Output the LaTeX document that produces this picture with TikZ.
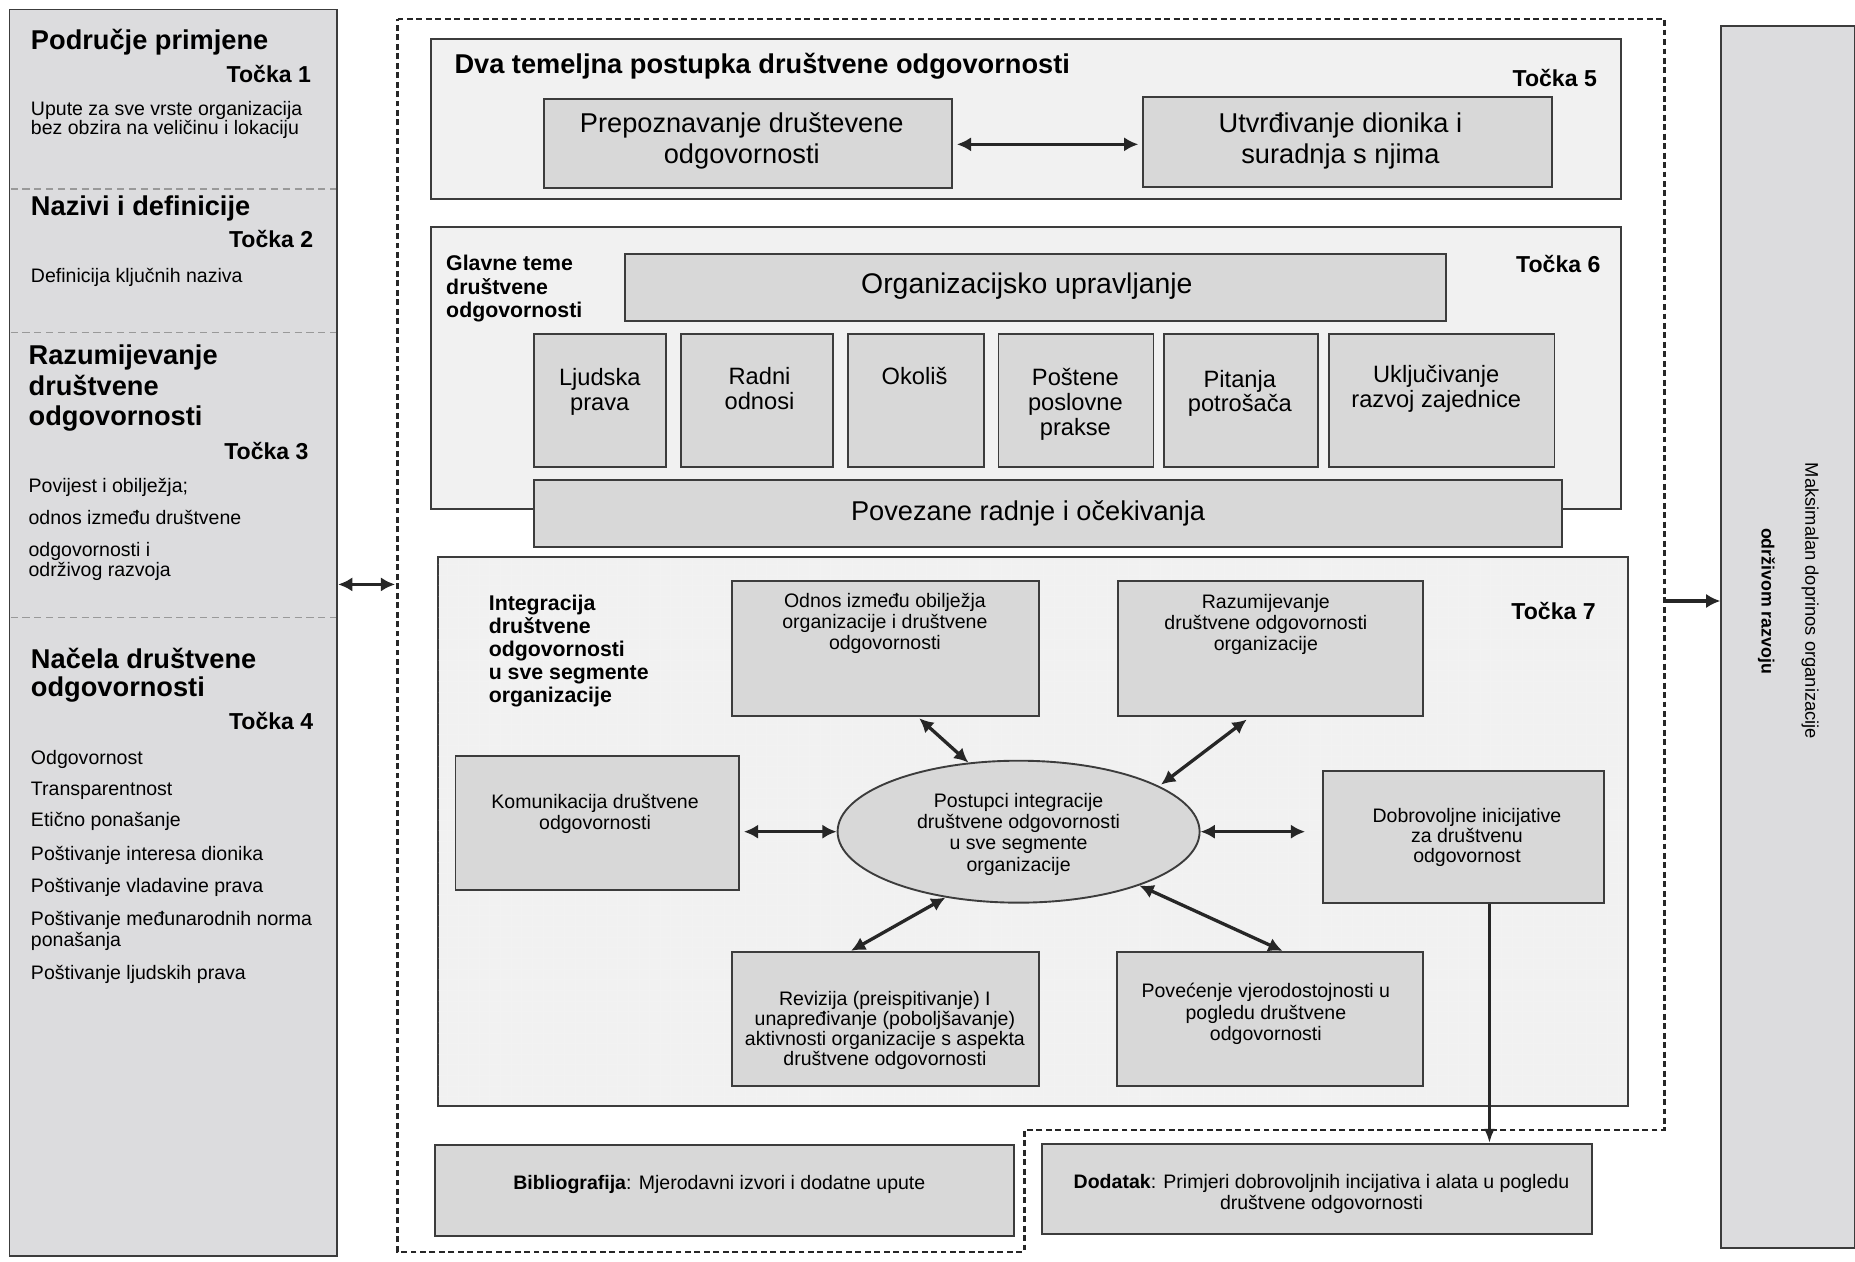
\documentclass[tikz,border=0pt]{standalone}
\usepackage{fontspec}
\setmainfont{Liberation Sans}
\usetikzlibrary{arrows.meta,shapes.geometric,calc}
\definecolor{boxgray}{HTML}{D8D8D8}
\definecolor{colgray}{HTML}{DCDCDE}
\definecolor{contgray}{HTML}{F1F1F1}
\definecolor{edgec}{HTML}{3C3C3C}
\newcommand\myfs[2]{\fontsize{#1}{#2}\selectfont}
\begin{document}
\begin{tikzpicture}[x=1pt,y=-1pt,
 gbox/.style={draw=edgec, line width=1.6pt, fill=boxgray, inner sep=0pt, rectangle},
 cbox/.style={draw=edgec, line width=1.6pt, fill=contgray, inner sep=0pt, rectangle},
 colbox/.style={draw=edgec, line width=1.6pt, fill=colgray, inner sep=0pt, rectangle},
 txt/.style={inner sep=0pt, align=center},
 tl/.style={inner sep=0pt, anchor=base west},
 tr/.style={inner sep=0pt, anchor=base east},
 body/.style={font=\myfs{16.5}{18}},
 ttl/.style={font=\bfseries\myfs{23}{26}},
 tocka/.style={font=\bfseries\myfs{19.5}{22}},
 dbl/.style={line width=2.8pt, draw=black!85, {Latex[length=12pt,width=12pt]}-{Latex[length=12pt,width=12pt]}},
 sgl/.style={line width=2.8pt, draw=black!85, -{Latex[length=12pt,width=12pt]}},
 thinarr/.style={line width=2.2pt, draw=black!85, -{Latex[length=12pt,width=9pt]}},
 sepline/.style={draw=gray!80, line width=1.4pt, dash pattern=on 6pt off 4pt},
 outerdash/.style={draw=black!85, line width=1.8pt, dash pattern=on 5pt off 3pt},
]
\useasboundingbox (0,0) rectangle (1568,1066);
\fill[white] (0,0) rectangle (1568,1066);

% ---------------- left column ----------------
\node[colbox, minimum width=277pt, minimum height=1054pt] (lcol) at (146.5,535) {};
\draw[sepline] (9,160) -- (284,160);
\draw[sepline] (9,281) -- (284,281);
\draw[sepline] (9,522) -- (284,522);

\node[tl, ttl] (t1) at (26,42) {Područje primjene};
\node[tr, tocka] (k1) at (263,70) {Točka 1};
\node[tl, body] (u1) at (26,98) {Upute za sve vrste organizacija};
\node[tl, body] (u2) at (26,114) {bez obzira na veličinu i lokaciju};

\node[tl, ttl] (t2) at (26,182) {Nazivi i definicije};
\node[tr, tocka] (k2) at (265,209) {Točka 2};
\node[tl, body] (d1) at (26,239) {Definicija ključnih naziva};

\node[tl, ttl] (t3a) at (24,308) {Razumijevanje};
\node[tl, ttl] (t3b) at (24,334) {društvene};
\node[tl, ttl] (t3c) at (24,360) {odgovornosti};
\node[tr, tocka] (k3) at (261,388) {Točka 3};
\node[tl, body] (r1) at (24,416) {Povijest i obilježja;};
\node[tl, body] (r2) at (24,443) {odnos između društvene};
\node[tl, body] (r3) at (24,470) {odgovornosti i};
\node[tl, body] (r4) at (24,487) {održivog razvoja};

\node[tl, ttl] (t4a) at (26,565) {Načela društvene};
\node[tl, ttl] (t4b) at (26,589) {odgovornosti};
\node[tr, tocka] (k4) at (265,617) {Točka 4};
\node[tl, body] (n1) at (26,646) {Odgovornost};
\node[tl, body] (n2) at (26,672) {Transparentnost};
\node[tl, body] (n3) at (26,699) {Etično ponašanje};
\node[tl, body] (n4) at (26,727) {Poštivanje interesa dionika};
\node[tl, body] (n5) at (26,754) {Poštivanje vladavine prava};
\node[tl, body] (n6) at (26,782) {Poštivanje međunarodnih norma};
\node[tl, body] (n6b) at (26,800) {ponašanja};
\node[tl, body] (n7) at (26,828) {Poštivanje ljudskih prava};

% ---------------- outer dashed frame ----------------
\draw[outerdash] (336,16) -- (1407,16) -- (1407,955) -- (866,955) -- (866,1058) -- (336,1058) -- cycle;
\coordinate (lb) at (334,494);
\draw[dbl] (lcol.east |- lb) -- (lb);

% ---------------- box 5 ----------------
\node[cbox, minimum width=1006pt, minimum height=135pt] (b5) at (867,100.5) {};
\node[tl, font=\bfseries\myfs{23}{26}] (t5) at (384,62) {Dva temeljna postupka društvene odgovornosti};
\node[tr, tocka] (k5) at (1350,73) {Točka 5};
\node[gbox, minimum width=345pt, minimum height=75pt] (p5a) at (632.5,121.5) {};
\node[txt, font=\myfs{23}{26}] at (627,119) {Prepoznavanje društevene\\odgovornosti};
\node[gbox, minimum width=346pt, minimum height=76pt] (p5b) at (1139,120) {};
\node[txt, font=\myfs{23}{26}] at (1133,119) {Utvrđivanje dionika i\\suradnja s njima};
\draw[dbl, shorten <=3pt, shorten >=3pt] (p5a.east |- 0,122) -- (p5b.west |- 0,122);

% ---------------- box 6 ----------------
\node[cbox, minimum width=1006pt, minimum height=238pt] (b6) at (867,311) {};
\node[txt, align=left, anchor=west, font=\bfseries\myfs{18}{20}] (g6) at (377,244) {Glavne teme\\društvene\\odgovornosti};
\node[tr, tocka] (k6) at (1353,230) {Točka 6};
\node[gbox, minimum width=694pt, minimum height=56pt] (org) at (875,243) {};
\node[txt, font=\myfs{24}{26}] at (868,242) {Organizacijsko upravljanje};

\node[gbox, minimum width=112pt, minimum height=113pt] (s1) at (507,338.5) {};
\node[gbox, minimum width=128pt, minimum height=113pt] (s2) at (640,338.5) {};
\node[gbox, minimum width=115pt, minimum height=113pt] (s3) at (774.5,338.5) {};
\node[gbox, minimum width=131pt, minimum height=113pt] (s4) at (909.5,338.5) {};
\node[gbox, minimum width=130pt, minimum height=113pt] (s5) at (1049,338.5) {};
\node[gbox, minimum width=191pt, minimum height=113pt] (s6) at (1218.5,338.5) {};
\node[txt, font=\myfs{20}{21}] at (507,331.5) {Ljudska\\prava};
\node[txt, font=\myfs{20}{21}] at (642,328.5) {Radni\\odnosi};
\node[txt, font=\myfs{20}{21}] at (773,318) {Okoliš};
\node[txt, font=\myfs{20}{21}] at (909,342) {Poštene\\poslovne\\prakse};
\node[txt, font=\myfs{20}{21}] at (1048,332.5) {Pitanja\\potrošača};
\node[txt, font=\myfs{20}{21}] at (1214,328.5) {Uključivanje\\razvoj zajednice};

\node[gbox, minimum width=869pt, minimum height=56pt] (pov) at (885.5,434) {};
\node[txt, font=\myfs{23}{26}] at (869,434) {Povezane radnje i očekivanja};

% ---------------- box 7 ----------------
\node[cbox, minimum width=1006pt, minimum height=464pt] (b7) at (873,703) {};
\begin{scope}
\clip (371,472) rectangle (1375,934);
\draw[black!5, line width=0.5pt, step=9pt] (370,471) grid (1376,935);
\end{scope}
\node[txt, align=left, anchor=west, font=\bfseries\myfs{18}{19.5}] (g7) at (413,550) {Integracija\\društvene\\odgovornosti\\u sve segmente\\organizacije};
\node[tr, tocka] (k7) at (1349,524) {Točka 7};

\node[gbox, minimum width=259pt, minimum height=114pt] (odnos) at (748.5,548) {};
\node[txt, body] at (748,527) {Odnos između obilježja\\organizacije i društvene\\odgovornosti};
\node[gbox, minimum width=258pt, minimum height=114pt] (razum) at (1074,548) {};
\node[txt, body] at (1070,528) {Razumijevanje\\društvene odgovornosti\\organizacije};
\node[gbox, minimum width=240pt, minimum height=113pt] (komun) at (505,695.5) {};
\node[txt, body] at (503,688) {Komunikacija društvene\\odgovornosti};
\node[gbox, ellipse, minimum width=306pt, minimum height=120pt] (ell) at (861,703) {};
\node[txt, body] at (861,705) {Postupci integracije\\društvene odgovornosti\\u sve segmente\\organizacije};
\node[gbox, minimum width=238pt, minimum height=111pt] (dobro) at (1237,707.5) {};
\node[txt, font=\myfs{16.5}{17}] at (1240,708) {Dobrovoljne inicijative\\za društvenu\\odgovornost};
\node[gbox, minimum width=259pt, minimum height=113pt] (rev) at (748.5,861.5) {};
\node[txt, font=\myfs{16.5}{17}] at (748,871) {Revizija (preispitivanje) I\\unapređivanje (poboljšavanje)\\aktivnosti organizacije s aspekta\\društvene odgovornosti};
\node[gbox, minimum width=259pt, minimum height=113pt] (pove) at (1073.5,861.5) {};
\node[txt, body] at (1070,857) {Povećenje vjerodostojnosti u\\pogledu društvene\\odgovornosti};

\draw[dbl, shorten <=2pt] ($(odnos.south)+(27,0)$) -- (ell.126);
\draw[dbl, shorten <=4pt, shorten >=2pt] ($(razum.south)+(-17,0)$) -- (ell.18);
\draw[dbl, shorten <=3pt] (komun.east |- ell.west) -- (ell.west);
\draw[dbl, shorten >=14pt] (ell.east) -- (ell.east -| dobro.west);
\draw[dbl, shorten >=1pt] (ell.222) -- ($(rev.north)+(-30,0)$);
\draw[dbl, shorten >=1pt] (ell.336) -- ($(pove.north)+(11.5,0)$);

% ---------------- bottom boxes ----------------
\node[gbox, minimum width=489pt, minimum height=77pt] (bib) at (612.5,1006.5) {};
\node[txt, body] at (608,1001) {\textbf{Bibliografija}: Mjerodavni izvori i dodatne upute};
\node[gbox, minimum width=465pt, minimum height=76pt] (dod) at (1113.5,1005) {};
\node[txt, body] at (1117,1009) {\textbf{Dodatak}: Primjeri dobrovoljnih incijativa i alata u pogledu\\društvene odgovornosti};
\coordinate (dz) at ($(dobro.south)+(22,0)$);
\draw[thinarr] (dz) -- (dz |- dod.north);

% ---------------- right column ----------------
\node[colbox, minimum width=113pt, minimum height=1033pt] (rcol) at (1511.5,538.5) {};
\node[txt, rotate=-90, font=\myfs{15.5}{18}] (rt1) at (1530,508) {Maksimalan doprinos organizacije};
\node[txt, rotate=-90, font=\bfseries\myfs{15}{18}] (rt2) at (1493,508) {održivom razvoju};
\coordinate (rb) at (1408,508);
\draw[sgl] (rb) -- (rb -| rcol.west);
\end{tikzpicture}
\end{document}
